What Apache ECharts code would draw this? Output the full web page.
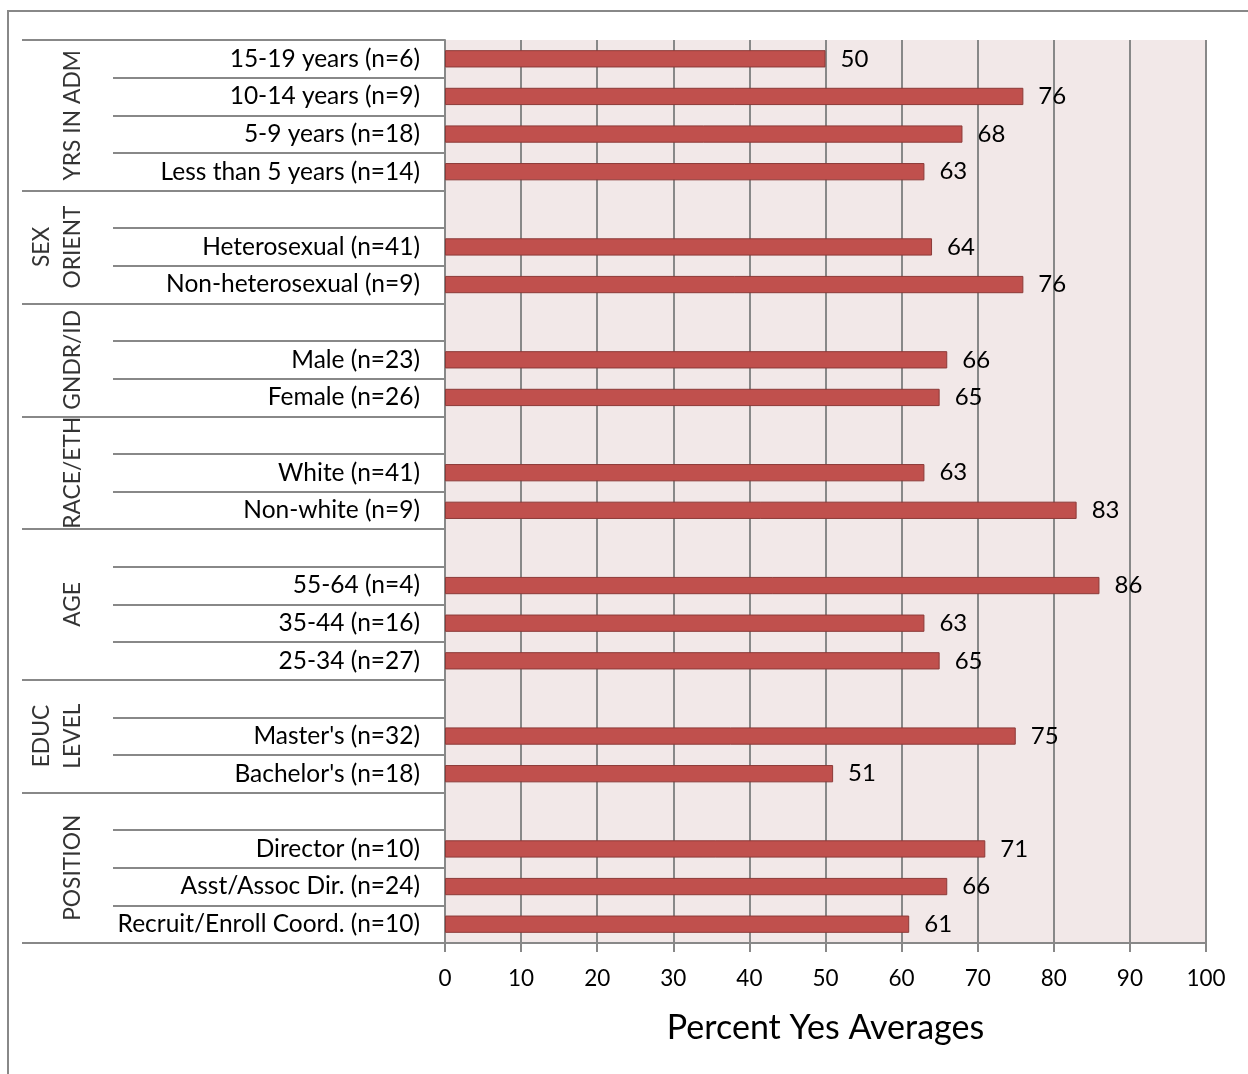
<!DOCTYPE html>
<html>
<head>
<meta charset="utf-8">
<script src="https://cdn.jsdelivr.net/npm/echarts@6/dist/echarts.min.js"></script>
<style>
  html, body { margin: 0; padding: 0; background: #fff; }
  #chart { width: 1248px; height: 1074px; }
</style>
</head>
<body>
<div id="chart"></div>
<script>
// Row labels, top to bottom; empty strings are the spacer row at the top of each group
const categories = [
  '15-19 years (n=6)', '10-14 years (n=9)', '5-9 years (n=18)', 'Less than 5 years (n=14)',
  '', 'Heterosexual (n=41)', 'Non-heterosexual (n=9)',
  '', 'Male (n=23)', 'Female (n=26)',
  '', 'White (n=41)', 'Non-white (n=9)',
  '', '55-64 (n=4)', '35-44 (n=16)', '25-34 (n=27)',
  '', "Master's (n=32)", "Bachelor's (n=18)",
  '', 'Director (n=10)', 'Asst/Assoc Dir. (n=24)', 'Recruit/Enroll Coord. (n=10)'
];

// Percent "yes" averages per row ('-' = spacer row, no bar)
const values = [
  50, 76, 68, 63,
  '-', 64, 76,
  '-', 66, 65,
  '-', 63, 83,
  '-', 86, 63, 65,
  '-', 75, 51,
  '-', 71, 66, 61
];

// Outer category level: group names and how many rows each spans
const groupNames = ['YRS IN ADM', 'SEX\nORIENT', 'GNDR/ID', 'RACE/ETH', 'AGE', 'EDUC\nLEVEL', 'POSITION'];
const groupSizes = [4, 3, 3, 3, 4, 3, 4];

const FONT = 'Lato';
const GRID_GREY = '#888888';

// Group boundaries and label anchors in row units
const boundaries = [0];
const groupAnchors = [];
groupSizes.forEach((n, i) => {
  const start = boundaries[i];
  boundaries.push(start + n);
  groupAnchors.push([0.725, start + n / 2, groupNames[i]]);
});

const chart = echarts.init(document.getElementById('chart'), null, { renderer: 'canvas' });

chart.setOption({
  backgroundColor: '#ffffff',
  animation: false,
  graphic: [{
    type: 'rect',
    shape: { x: 8, y: 11, width: 1400, height: 1200 },
    style: { fill: 'none', stroke: GRID_GREY, lineWidth: 2 },
    silent: true,
    z: -10
  }],
  grid: [
    { left: 445, right: 42, top: 40, bottom: 131, show: true, backgroundColor: '#F2E8E8', borderWidth: 0 },
    { left: 22, width: 91, top: 40, bottom: 131 }
  ],
  xAxis: [
    {
      gridIndex: 0,
      type: 'value',
      min: 0, max: 100, interval: 10,
      name: 'Percent Yes Averages',
      nameLocation: 'middle',
      nameGap: 68,
      nameTextStyle: { fontFamily: FONT, fontSize: 34, color: '#000' },
      axisLine: { show: true, lineStyle: { color: GRID_GREY, width: 2 } },
      axisTick: { show: true, length: 9, lineStyle: { color: GRID_GREY, width: 2 } },
      axisLabel: { fontFamily: FONT, fontSize: 22.5, color: '#000', margin: 24 },
      splitLine: { show: true, lineStyle: { color: GRID_GREY, width: 2 } }
    },
    { gridIndex: 1, type: 'value', min: 0, max: 1, show: false }
  ],
  yAxis: [
    {
      gridIndex: 0,
      type: 'category',
      inverse: true,
      data: categories,
      axisLine: { show: true, lineStyle: { color: GRID_GREY, width: 2 } },
      axisTick: { show: true, inside: false, length: 332, lineStyle: { color: GRID_GREY, width: 2 } },
      axisLabel: { fontFamily: FONT, fontSize: 24.5, color: '#000', margin: 25, padding: [5, 0, 0, 0] },
      splitLine: { show: false }
    },
    { gridIndex: 1, type: 'value', min: 0, max: 24, inverse: true, show: false }
  ],
  series: [
    {
      type: 'bar',
      xAxisIndex: 0, yAxisIndex: 0,
      data: values,
      barWidth: '46%',
      itemStyle: { color: '#C0504D', borderColor: '#8C3A38', borderWidth: 1 },
      label: {
        show: true,
        position: 'right',
        distance: 15,
        fontFamily: FONT,
        fontSize: 24,
        color: '#000',
        padding: [5, 0, 0, 0]
      },
      z: 3
    },
    {
      type: 'scatter',
      xAxisIndex: 1, yAxisIndex: 1,
      data: groupAnchors,
      symbolSize: 0,
      label: {
        show: true,
        position: 'inside',
        rotate: 90,
        formatter: p => p.value[2],
        fontFamily: FONT,
        fontSize: 22.8,
        lineHeight: 31,
        color: '#000',
        align: 'center',
        verticalAlign: 'bottom'
      },
      markLine: {
        silent: true,
        symbol: ['none', 'none'],
        label: { show: false },
        lineStyle: { color: GRID_GREY, width: 2, type: 'solid' },
        data: boundaries.map(b => ({ yAxis: b }))
      }
    }
  ]
});
</script>
</body>
</html>
